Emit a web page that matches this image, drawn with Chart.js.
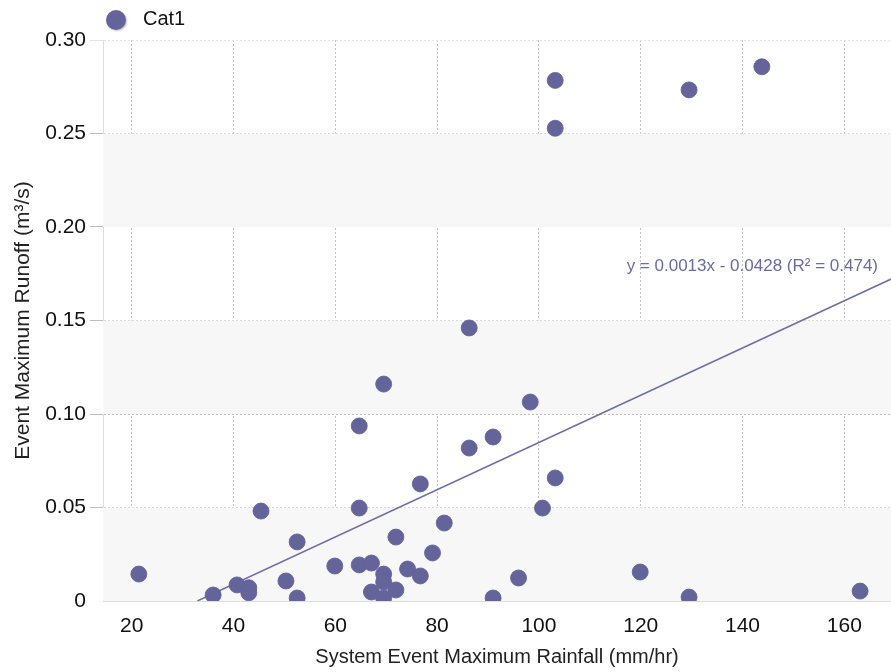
<!DOCTYPE html>
<html>
<head>
<meta charset="utf-8">
<script src="https://cdn.jsdelivr.net/npm/chart.js@4.4.1/dist/chart.umd.min.js"></script>
<style>
  html, body { margin: 0; padding: 0; background: #fff; }
  #wrap { width: 891px; height: 672px; position: relative; }
</style>
</head>
<body>
<div id="wrap"><canvas id="chart"></canvas></div>
<script>
var seriesName = 'Cat1';
var rainfall = [21.4, 36.0, 40.7, 43.0, 43.0, 45.4, 50.3, 52.5, 52.5, 59.9, 64.7, 64.7, 64.7, 67.1, 67.1,
                69.5, 69.5, 69.5, 69.5, 71.9, 71.9, 74.2, 76.7, 76.7, 79.1, 81.4, 86.3, 86.3, 91.0, 91.0,
                96.0, 98.3, 100.7, 103.2, 103.2, 103.2, 119.9, 129.5, 129.5, 143.8, 163.1];
var runoff = [0.0144, 0.0032, 0.0086, 0.0071, 0.0044, 0.0481, 0.0107, 0.0316, 0.0016, 0.0187, 0.0497, 0.0936, 0.0193, 0.0203, 0.0048,
              0.116, 0.0144, 0.0102, 0.0016, 0.0342, 0.0059, 0.0171, 0.0626, 0.0134, 0.0257, 0.0417, 0.0818, 0.146, 0.0877, 0.0016,
              0.0123, 0.1064, 0.0497, 0.0658, 0.2528, 0.2784, 0.0155, 0.2733, 0.0021, 0.2857, 0.0053];
var trendX = [32.9, 169.2];
var trendY = [0, 0.1722];
var trendLabel = 'y = 0.0013x - 0.0428 (R\u00b2 = 0.474)';
var xTicks = [20, 40, 60, 80, 100, 120, 140, 160];
var yTicks = [0, 0.05, 0.10, 0.15, 0.20, 0.25, 0.30];
var shadedBands = [[0, 0.05], [0.10, 0.15], [0.20, 0.25]];

var dotColor = '#64639a';
var font = '"Liberation Sans", Arial, sans-serif';

// alternating background bands
var bandsPlugin = {
  id: 'bands',
  beforeDatasetsDraw: function (chart) {
    var ctx = chart.ctx, a = chart.chartArea, y = chart.scales.y;
    ctx.save();
    ctx.fillStyle = '#f7f7f7';
    shadedBands.forEach(function (b) {
      var top = y.getPixelForValue(b[1]), bot = y.getPixelForValue(b[0]);
      ctx.fillRect(a.left, top, a.right - a.left, bot - top);
    });
    ctx.restore();
  }
};

// legend + trendline label
var labelsPlugin = {
  id: 'labels',
  afterDraw: function (chart) {
    var ctx = chart.ctx;
    ctx.save();
    ctx.shadowColor = 'rgba(0,0,0,0.25)';
    ctx.shadowBlur = 2;
    ctx.shadowOffsetX = 1;
    ctx.shadowOffsetY = 1;
    ctx.fillStyle = dotColor;
    ctx.beginPath();
    ctx.arc(116, 20, 10, 0, Math.PI * 2);
    ctx.fill();
    ctx.restore();

    ctx.save();
    ctx.font = '20px ' + font;
    ctx.fillStyle = '#111';
    ctx.textBaseline = 'middle';
    ctx.fillText(seriesName, 143, 19);

    ctx.font = '17px ' + font;
    ctx.fillStyle = '#6b6aa6';
    ctx.textAlign = 'right';
    ctx.fillText(trendLabel, 878, 266);
    ctx.restore();
  }
};

new Chart(document.getElementById('chart'), {
  type: 'scatter',
  data: {
    datasets: [{
      label: seriesName,
      data: rainfall.map(function (x, i) { return { x: x, y: runoff[i] }; }),
      backgroundColor: dotColor,
      borderColor: 'rgba(100,99,154,0.85)',
      borderWidth: 1,
      pointRadius: 8,
      order: 0
    }, {
      type: 'line',
      label: 'trend',
      data: trendX.map(function (x, i) { return { x: x, y: trendY[i] }; }),
      borderColor: '#6e6da8',
      borderWidth: 1.5,
      pointRadius: 0,
      fill: false,
      order: 1
    }]
  },
  options: {
    responsive: true,
    maintainAspectRatio: false,
    animation: false,
    layout: { autoPadding: false, padding: { top: 40, left: 0, right: 0, bottom: 0 } },
    plugins: { legend: { display: false }, tooltip: { enabled: false } },
    scales: {
      x: {
        type: 'linear',
        min: 14.36,
        max: 169.17,
        afterBuildTicks: function (s) { s.ticks = xTicks.map(function (v) { return { value: v }; }); },
        afterFit: function (s) { s.height = 71; s.paddingLeft = 0; s.paddingRight = 0; },
        ticks: { color: '#111', font: { family: font, size: 21 }, padding: 13, maxRotation: 0 },
        grid: { color: '#c4c4c4', drawTicks: false },
        border: { display: true, color: '#dddddd', dash: [2, 2] },
        title: { display: true, text: 'System Event Maximum Rainfall (mm/hr)', color: '#222',
                 font: { family: font, size: 20 }, padding: { top: 0, bottom: 3 } }
      },
      y: {
        type: 'linear',
        min: 0,
        max: 0.30,
        afterBuildTicks: function (s) { s.ticks = yTicks.map(function (v) { return { value: v }; }); },
        afterFit: function (s) { s.width = 103; s.paddingTop = 0; s.paddingBottom = 0; },
        ticks: {
          color: '#111', font: { family: font, size: 21 }, padding: 4,
          callback: function (v) { return v === 0 ? '0' : v.toFixed(2); }
        },
        grid: {
          tickLength: 13,
          color: function (c) {
            if (c.tick && c.tick.value === 0) return 'rgba(0,0,0,0)';
            if (c.tick && c.tick.value > 0.29) return '#e4e4e4';
            return '#bdbdbd';
          }
        },
        border: { display: true, color: '#dddddd', dash: [2, 2] },
        title: { display: true, text: 'Event Maximum Runoff (m\u00b3/s)', color: '#222',
                 font: { family: font, size: 21 }, padding: { top: 11, bottom: 0 } }
      }
    }
  },
  plugins: [bandsPlugin, labelsPlugin]
});
</script>
</body>
</html>
